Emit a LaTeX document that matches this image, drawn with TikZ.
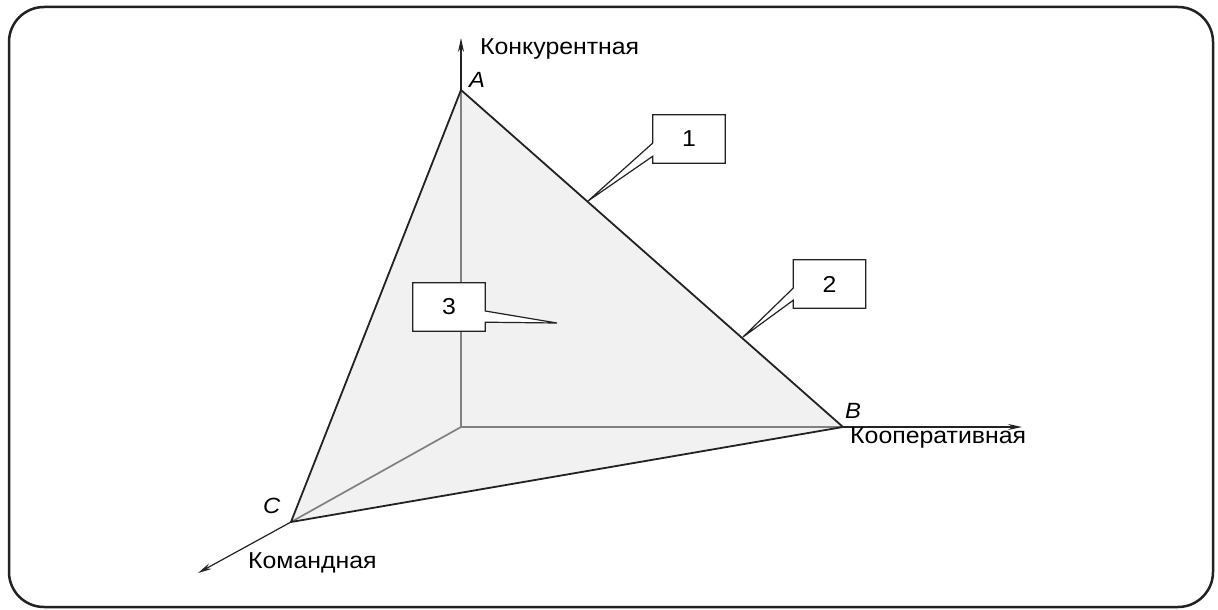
\documentclass[tikz,border=0pt]{standalone}
\usepackage{fontspec}
\setmainfont{Liberation Sans}[FakeStretch=1.08]
\usetikzlibrary{arrows.meta}
\definecolor{fillgray}{HTML}{F1F1F1}
\definecolor{edgegray}{HTML}{808080}
\definecolor{ink}{HTML}{222222}
\begin{document}
\begin{tikzpicture}[x=1pt,y=-1pt,
  axis/.style={draw=ink,line width=1.2pt,-{Stealth[length=14pt,width=6pt]}},
  hidden/.style={draw=edgegray,line width=1.7pt},
  edge/.style={draw=ink,line width=1.8pt},
  lbl/.style={font=\fontsize{23}{26}\selectfont,inner sep=0pt},
  vlbl/.style={font=\fontsize{22}{26}\selectfont\itshape,inner sep=0pt},
  callbox/.style={minimum width=72pt,minimum height=48pt,inner sep=0pt,font=\fontsize{23}{26}\selectfont},
  callout/.style={draw=ink,line width=1.2pt,fill=white,line join=miter}
]
\useasboundingbox (0,0) rectangle (1218,610);
\draw[draw=ink,line width=2.5pt,rounded corners=35pt] (9,7) rectangle (1213,607);

\coordinate (O) at (461,427);
\coordinate (A) at (461,90);
\coordinate (B) at (843,427);
\coordinate (C) at (291,522);
\coordinate (Atip) at (461,38);
\coordinate (Btip) at (1022,427);
\coordinate (Ctip) at (198,573);

% face
\fill[fillgray] (A) -- (B) -- (C) -- cycle;
% hidden axes inside
\draw[hidden] (O) -- (A);
\draw[hidden] (O) -- (B);
\draw[hidden] (O) -- (C);
% visible axes
\draw[axis] (A) -- (Atip);
\draw[axis] (B) -- (Btip);
\draw[axis] (C) -- (Ctip);
% edges
\draw[edge,line join=round] (A) -- (B) -- (C) -- cycle;

% labels
\node[lbl,anchor=base west] (lconc) at (480,55) {Конкурентная};
\node[lbl,anchor=base west] (lcoop) at (850,443) {Кооперативная};
\node[lbl,anchor=base west] (lcomm) at (248,568) {Командная};
\node[vlbl,anchor=base west] (la) at (469,88) {A};
\node[vlbl,anchor=base west] (lb) at (845,418) {B};
\node[vlbl,anchor=base west] (lc) at (263,513) {C};

% callouts
\coordinate (t1) at (588,201);
\coordinate (t2) at (743,337);
\coordinate (t3) at (557,323);
\node[callbox] (b1) at (689,139) {};
\node[callbox] (b2) at (829.5,284) {};
\node[callbox] (b3) at (449,307) {};
\path[callout] (b1.north west) -- (b1.north east) -- (b1.south east) -- (b1.south west)
  -- ([yshift=7pt]b1.south west) -- (t1) -- ([yshift=-4pt]b1.west) -- cycle;
\path[callout] (b2.north west) -- (b2.north east) -- (b2.south east) -- (b2.south west)
  -- ([yshift=8pt]b2.south west) -- (t2) -- ([yshift=-4pt]b2.west) -- cycle;
\path[callout] (b3.north west) -- (b3.north east) -- ([yshift=-4pt]b3.east) -- (t3)
  -- ([yshift=9pt]b3.south east) -- (b3.south east) -- (b3.south west) -- cycle;
\node[callbox] at (b1) {1};
\node[callbox] at (b2) {2};
\node[callbox] at (b3) {3};
\end{tikzpicture}
\end{document}
